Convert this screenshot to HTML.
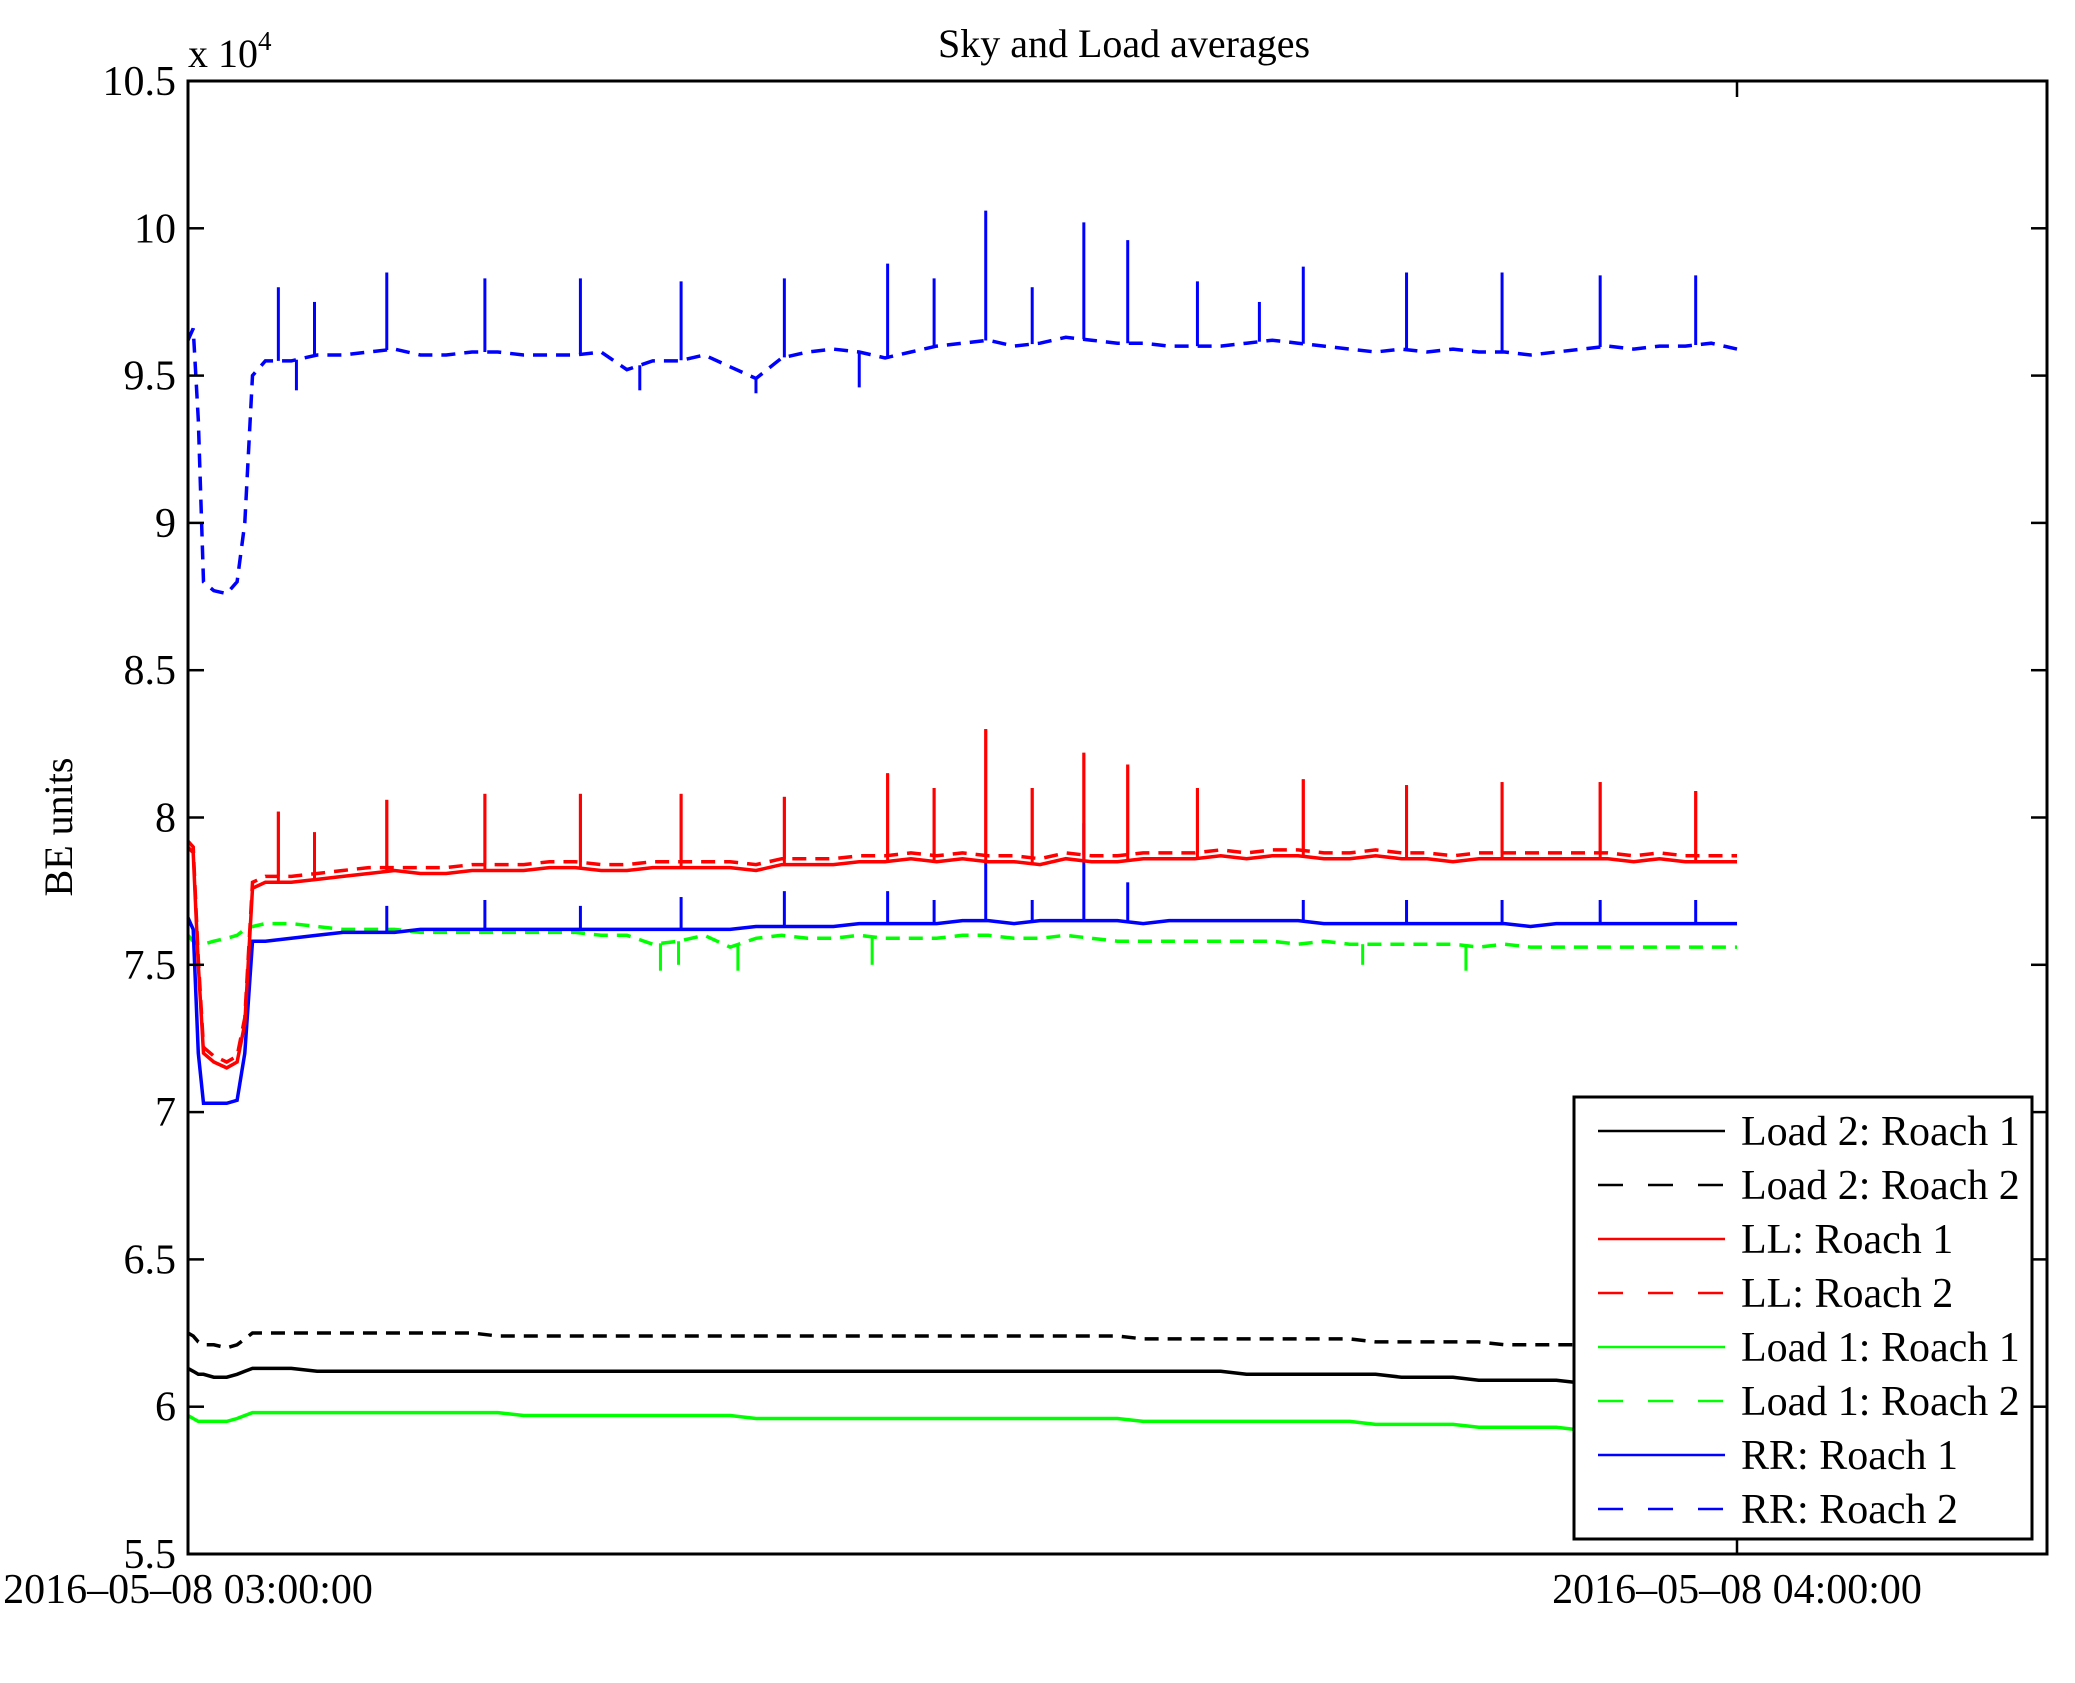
<!DOCTYPE html>
<html><head><meta charset="utf-8"><style>
html,body{margin:0;padding:0;background:#fff;}
svg{display:block;font-family:"Liberation Serif",serif;}
</style></head><body>
<svg id="chart" width="2075" height="1683" viewBox="0 0 2075 1683" xmlns="http://www.w3.org/2000/svg">
<rect x="0" y="0" width="2075" height="1683" fill="#fff"/>
<g id="plot"></g>
<text x="1124" y="57" font-size="40" text-anchor="middle">Sky and Load averages</text>
<text x="188" y="67" font-size="40">x 10<tspan dy="-17" font-size="27">4</tspan></text>
<text transform="translate(72,827) rotate(-90)" font-size="40" text-anchor="middle">BE units</text>
</svg>
<script>
// minutes after 2016-05-08 03:00:00
const times=[0,0.2,0.4,0.6,1,1.5,1.9,2.2,2.5,3,4,5,6,7,8,9,10,11,12,13,14,15,16,17,18,19,20,21,22,23,24,25,26,27,28,29,30,31,32,33,34,35,36,37,38,39,40,41,42,43,44,45,46,47,48,49,50,51,52,53,54,55,56,57,58,59,60];
const rrRoach2=[9.62,9.66,9.35,8.8,8.77,8.76,8.8,9.0,9.5,9.55,9.55,9.57,9.57,9.58,9.59,9.57,9.57,9.58,9.58,9.57,9.57,9.57,9.58,9.52,9.55,9.55,9.57,9.53,9.49,9.56,9.58,9.59,9.58,9.56,9.58,9.6,9.61,9.62,9.6,9.61,9.63,9.62,9.61,9.61,9.6,9.6,9.6,9.61,9.62,9.61,9.6,9.59,9.58,9.59,9.58,9.59,9.58,9.58,9.57,9.58,9.59,9.6,9.59,9.6,9.6,9.61,9.59];
const llRoach1=[7.9,7.88,7.5,7.2,7.17,7.15,7.17,7.3,7.76,7.78,7.78,7.79,7.8,7.81,7.82,7.81,7.81,7.82,7.82,7.82,7.83,7.83,7.82,7.82,7.83,7.83,7.83,7.83,7.82,7.84,7.84,7.84,7.85,7.85,7.86,7.85,7.86,7.85,7.85,7.84,7.86,7.85,7.85,7.86,7.86,7.86,7.87,7.86,7.87,7.87,7.86,7.86,7.87,7.86,7.86,7.85,7.86,7.86,7.86,7.86,7.86,7.86,7.85,7.86,7.85,7.85,7.85];
const llRoach2=[7.92,7.9,7.52,7.22,7.19,7.17,7.19,7.32,7.78,7.8,7.8,7.81,7.82,7.83,7.83,7.83,7.83,7.84,7.84,7.84,7.85,7.85,7.84,7.84,7.85,7.85,7.85,7.85,7.84,7.86,7.86,7.86,7.87,7.87,7.88,7.87,7.88,7.87,7.87,7.86,7.88,7.87,7.87,7.88,7.88,7.88,7.89,7.88,7.89,7.89,7.88,7.88,7.89,7.88,7.88,7.87,7.88,7.88,7.88,7.88,7.88,7.88,7.87,7.88,7.87,7.87,7.87];
const rrRoach1=[7.66,7.62,7.2,7.03,7.03,7.03,7.04,7.2,7.58,7.58,7.59,7.6,7.61,7.61,7.61,7.62,7.62,7.62,7.62,7.62,7.62,7.62,7.62,7.62,7.62,7.62,7.62,7.62,7.63,7.63,7.63,7.63,7.64,7.64,7.64,7.64,7.65,7.65,7.64,7.65,7.65,7.65,7.65,7.64,7.65,7.65,7.65,7.65,7.65,7.65,7.64,7.64,7.64,7.64,7.64,7.64,7.64,7.64,7.63,7.64,7.64,7.64,7.64,7.64,7.64,7.64,7.64];
const load1Roach2=[7.6,7.58,7.57,7.57,7.58,7.59,7.6,7.62,7.63,7.64,7.64,7.63,7.62,7.62,7.62,7.61,7.61,7.61,7.61,7.61,7.61,7.61,7.6,7.6,7.57,7.58,7.6,7.56,7.59,7.6,7.59,7.59,7.6,7.59,7.59,7.59,7.6,7.6,7.59,7.59,7.6,7.59,7.58,7.58,7.58,7.58,7.58,7.58,7.58,7.57,7.58,7.57,7.57,7.57,7.57,7.57,7.56,7.57,7.56,7.56,7.56,7.56,7.56,7.56,7.56,7.56,7.56];
const load1Roach1=[5.97,5.96,5.95,5.95,5.95,5.95,5.96,5.97,5.98,5.98,5.98,5.98,5.98,5.98,5.98,5.98,5.98,5.98,5.98,5.97,5.97,5.97,5.97,5.97,5.97,5.97,5.97,5.97,5.96,5.96,5.96,5.96,5.96,5.96,5.96,5.96,5.96,5.96,5.96,5.96,5.96,5.96,5.96,5.95,5.95,5.95,5.95,5.95,5.95,5.95,5.95,5.95,5.94,5.94,5.94,5.94,5.93,5.93,5.93,5.93,5.92,5.92,5.92,5.92,5.92,5.92,5.92];
const load2Roach1=[6.13,6.12,6.11,6.11,6.1,6.1,6.11,6.12,6.13,6.13,6.13,6.12,6.12,6.12,6.12,6.12,6.12,6.12,6.12,6.12,6.12,6.12,6.12,6.12,6.12,6.12,6.12,6.12,6.12,6.12,6.12,6.12,6.12,6.12,6.12,6.12,6.12,6.12,6.12,6.12,6.12,6.12,6.12,6.12,6.12,6.12,6.12,6.11,6.11,6.11,6.11,6.11,6.11,6.1,6.1,6.1,6.09,6.09,6.09,6.09,6.08,6.08,6.08,6.08,6.08,6.08,6.08];
const load2Roach2=[6.25,6.24,6.22,6.21,6.21,6.2,6.21,6.23,6.25,6.25,6.25,6.25,6.25,6.25,6.25,6.25,6.25,6.25,6.24,6.24,6.24,6.24,6.24,6.24,6.24,6.24,6.24,6.24,6.24,6.24,6.24,6.24,6.24,6.24,6.24,6.24,6.24,6.24,6.24,6.24,6.24,6.24,6.24,6.23,6.23,6.23,6.23,6.23,6.23,6.23,6.23,6.23,6.22,6.22,6.22,6.22,6.22,6.21,6.21,6.21,6.21,6.21,6.2,6.2,6.2,6.2,6.2];
// spikes: [minute, peak]
const rrRoach2Spikes=[[3.5,9.8],[4.9,9.75],[7.7,9.85],[11.5,9.83],[15.2,9.83],[19.1,9.82],[23.1,9.83],[27.1,9.88],[28.9,9.83],[30.9,10.06],[32.7,9.8],[34.7,10.02],[36.4,9.96],[39.1,9.82],[41.5,9.75],[43.2,9.87],[47.2,9.85],[50.9,9.85],[54.7,9.84],[58.4,9.84],[17.5,9.45],[22.0,9.44],[26.0,9.46],[4.2,9.45]];
const llSpikes=[[3.5,8.02],[4.9,7.95],[7.7,8.06],[11.5,8.08],[15.2,8.08],[19.1,8.08],[23.1,8.07],[27.1,8.15],[28.9,8.1],[30.9,8.3],[32.7,8.1],[34.7,8.22],[36.4,8.18],[39.1,8.1],[43.2,8.13],[47.2,8.11],[50.9,8.12],[54.7,8.12],[58.4,8.09]];
const rrRoach1Spikes=[[7.7,7.7],[11.5,7.72],[15.2,7.7],[19.1,7.73],[23.1,7.75],[27.1,7.75],[28.9,7.72],[30.9,7.85],[32.7,7.72],[34.7,7.98],[36.4,7.78],[43.2,7.72],[47.2,7.72],[50.9,7.72],[54.7,7.72],[58.4,7.72]];
const load1Roach2Spikes=[[18.3,7.48],[19.0,7.5],[21.3,7.48],[26.5,7.5],[45.5,7.5],[49.5,7.48]];
const yTicks=[5.5,6,6.5,7,7.5,8,8.5,9,9.5,10,10.5];
const yTickLabels=["5.5","6","6.5","7","7.5","8","8.5","9","9.5","10","10.5"];
const xTicks=[0,60];
const xTickLabels=["2016\u201305\u201308 03:00:00","2016\u201305\u201308 04:00:00"];
const legendLabels=["Load 2: Roach 1","Load 2: Roach 2","LL: Roach 1","LL: Roach 2","Load 1: Roach 1","Load 1: Roach 2","RR: Roach 1","RR: Roach 2"];

const NS="http://www.w3.org/2000/svg";
const L=188,R=2047,T=81,B=1554;
const X0=188,X60=1737;
function xs(m){return X0+(m/60)*(X60-X0);}
function ys(v){return T+(10.5-v)/5*(B-T);}
const plot=document.getElementById('plot');
function mk(tag,attrs,parent){const e=document.createElementNS(NS,tag);for(const k in attrs)e.setAttribute(k,attrs[k]);(parent||plot).appendChild(e);return e;}
function interp(arr,m){for(let i=0;i<times.length-1;i++){if(m>=times[i]&&m<=times[i+1]){const f=(m-times[i])/(times[i+1]-times[i]);return arr[i]+f*(arr[i+1]-arr[i]);}}return arr[arr.length-1];}
function drawSeries(name,vals,spikes,color,dashed){
  let d=times.map((t,i)=>(i?'L':'M')+xs(t).toFixed(1)+' '+ys(vals[i]).toFixed(1)).join(' ');
  const p=mk('path',{d:d,fill:'none',stroke:color,'stroke-width':3.5,'stroke-dasharray':dashed?'14 9':'none'});
  
  
  (spikes||[]).forEach(s=>{
    const b=interp(vals,s[0]);
    const ln=mk('line',{x1:xs(s[0]),x2:xs(s[0]),y1:ys(b),y2:ys(s[1]),stroke:color,'stroke-width':3});
    
    
  });
}
drawSeries('load2-roach1',load2Roach1,null,'#000',false);
drawSeries('load2-roach2',load2Roach2,null,'#000',true);
drawSeries('load1-roach1',load1Roach1,null,'#00ff00',false);
drawSeries('load1-roach2',load1Roach2,load1Roach2Spikes,'#00ff00',true);
drawSeries('rr-roach1',rrRoach1,rrRoach1Spikes,'#0000ff',false);
drawSeries('ll-roach1',llRoach1,llSpikes,'#ff0000',false);
drawSeries('ll-roach2',llRoach2,llSpikes,'#ff0000',true);
drawSeries('rr-roach2',rrRoach2,rrRoach2Spikes,'#0000ff',true);

const box=mk('rect',{x:L,y:T,width:R-L,height:B-T,fill:'none',stroke:'#000','stroke-width':3});


yTicks.forEach((v,i)=>{
  const y=ys(v);
  const t1=mk('line',{x1:L,x2:L+16,y1:y,y2:y,stroke:'#000','stroke-width':2.5});
  
  
  const t2=mk('line',{x1:R-16,x2:R,y1:y,y2:y,stroke:'#000','stroke-width':2.5});
  
  
  const tx=mk('text',{x:L-12,y:y+14,'font-size':42,'text-anchor':'end'});
  tx.textContent=yTickLabels[i];
  
  
});
xTicks.forEach((m,i)=>{
  const x=xs(m);
  const t1=mk('line',{x1:x,x2:x,y1:B,y2:B-16,stroke:'#000','stroke-width':2.5});
  
  
  const t2=mk('line',{x1:x,x2:x,y1:T,y2:T+16,stroke:'#000','stroke-width':2.5});
  
  
  const tx=mk('text',{x:x,y:1603,'font-size':42,'text-anchor':'middle'});
  tx.textContent=xTickLabels[i];
  
  
});
const lg=mk('g',{});


const lr=mk('rect',{x:1574,y:1097,width:458,height:442,fill:'#fff',stroke:'#000','stroke-width':3},lg);


const lcolors=['#000','#000','#ff0000','#ff0000','#00ff00','#00ff00','#0000ff','#0000ff'];
legendLabels.forEach((lab,i)=>{
  const y=1131+i*54;
  const ln=mk('line',{x1:1598,x2:1725,y1:y,y2:y,stroke:lcolors[i],'stroke-width':2.5,'stroke-dasharray':i%2?'25 25':'none'},lg);
  
  
  const tx=mk('text',{x:1741,y:y+14,'font-size':42},lg);
  tx.textContent=lab;
  
  
});
</script>
</body></html>
